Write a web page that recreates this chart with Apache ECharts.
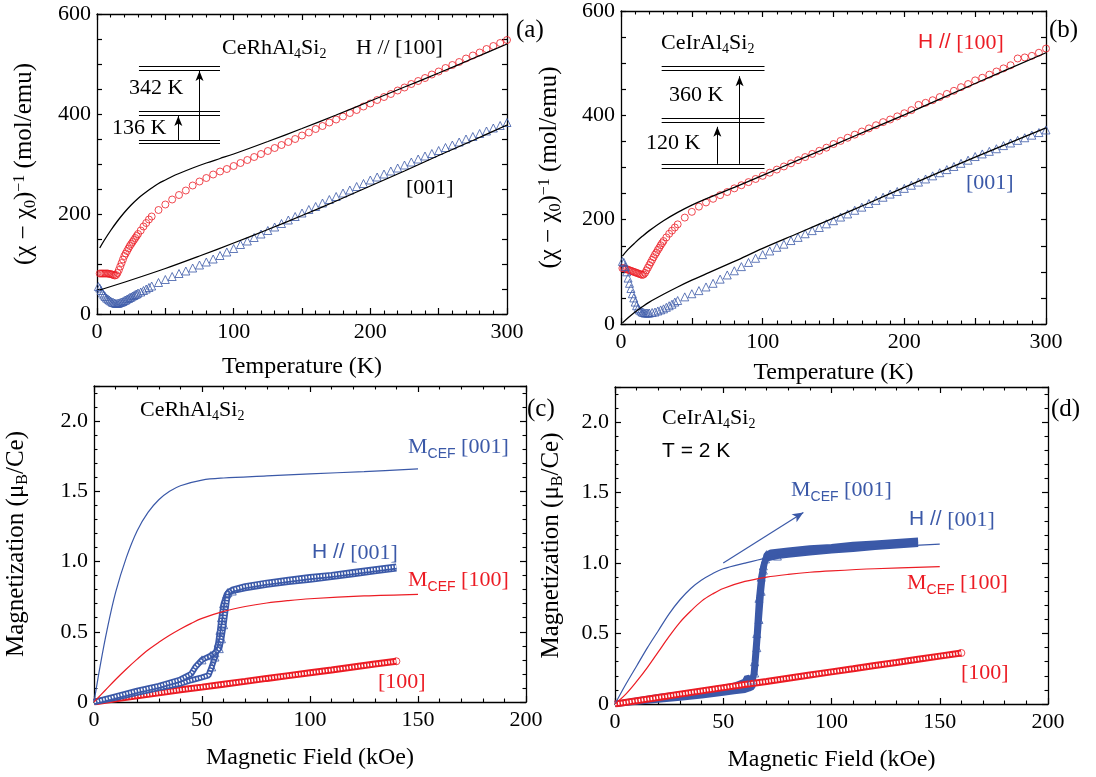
<!DOCTYPE html>
<html>
<head>
<meta charset="utf-8">
<script src="https://cdn.jsdelivr.net/npm/echarts@6/dist/echarts.min.js"></script>
<style>
html,body{margin:0;padding:0;background:#fff}
#chart{width:1096px;height:777px}
</style>
</head>
<body>
<div id="chart"></div>
<script>
// ---- (a) CeRhAl4Si2 inverse susceptibility, [T (K), (chi-chi0)^-1 (mol/emu)]
const aRed100 = [[2,81],[3,81],[4,81],[5,81],[6,81],[7,81],[8,81],[9,80],[10,80],[11,79],[12,78],[13,77],[14,78],[15,82],[16,88],[17,95],[18,102],[19,109],[20,116],[21,121],[22,126],[23,131],[24,136],[25,140],[26,144],[27,148],[28,152],[29,156],[30,160],[32,167],[34,175],[36,182],[38,189],[40,195],[45,208],[50,219],[55,229],[60,238],[65,247],[70,257],[75,265],[80,272],[85,279],[90,285],[95,290],[100,296],[105,302],[110,308],[115,314],[120,320],[125,326],[130,332],[135,338],[140,344],[145,350],[150,357],[155,363],[160,370],[165,376],[170,383],[175,389],[180,395],[185,402],[190,408],[195,415],[200,421],[205,428],[210,434],[215,440],[220,447],[225,453],[230,460],[235,466],[240,472],[245,479],[250,485],[255,492],[260,498],[265,504],[270,511],[275,517],[280,523],[285,530],[290,536],[295,542],[300,548]];
const aBlue001 = [[1,55],[2,52],[3,47],[4,42],[5,38],[6,35],[7,32],[8,30],[9,28],[10,26],[11,24],[12,23],[13,22],[14,21],[15,21],[16,22],[17,23],[18,24],[19,25],[20,27],[21,28],[22,30],[23,31],[24,33],[25,34],[26,36],[27,37],[28,39],[29,40],[30,42],[32,44],[34,47],[36,50],[38,53],[40,56],[45,63],[50,69],[55,75],[60,81],[65,86],[70,92],[75,98],[80,104],[85,110],[90,117],[95,124],[100,131],[105,139],[110,146],[115,153],[120,160],[125,167],[130,174],[135,181],[140,188],[145,195],[150,202],[155,209],[160,215],[165,222],[170,229],[175,235],[180,242],[185,248],[190,255],[195,261],[200,268],[205,274],[210,280],[215,286],[220,292],[225,298],[230,304],[235,310],[240,316],[245,321],[250,327],[255,333],[260,338],[265,344],[270,350],[275,355],[280,361],[285,366],[290,372],[295,377],[300,383]];
const aCef100 = [[2,132],[5,146],[10,167],[15,186],[20,203],[25,218],[30,231],[35,242],[40,252],[45,261],[50,268],[55,275],[60,281],[70,292],[80,302],[90,311],[100,320],[125,345],[150,371],[175,398],[200,426],[225,454],[250,482],[275,511],[300,540]];
const aCef001 = [[2,48],[25,68],[50,91],[75,116],[100,142],[125,169],[150,197],[175,226],[200,256],[225,286],[250,317],[275,347],[300,378]];
// inset level scheme: [T from, T to, level], arrows: [T, from, to]
const aLevels = [[30.7,90,495],[30.7,90,488],[30.7,90,405],[30.7,90,398],[30.7,90,348],[30.7,90,341]];
const aArrows = [[59.5,348,396],[75,348,486]];

// ---- (b) CeIrAl4Si2 inverse susceptibility
const bRed100 = [[1,107],[2,107],[3,106],[4,105],[5,104],[6,103],[7,102],[8,101],[9,100],[10,99],[11,98],[12,97],[13,96],[14,95],[15,94],[16,95],[17,98],[18,103],[19,108],[20,113],[21,118],[22,123],[23,128],[24,133],[25,137],[26,142],[27,146],[28,151],[29,155],[30,159],[32,166],[34,173],[36,179],[38,185],[40,191],[45,204],[50,215],[55,225],[60,233],[65,240],[70,247],[75,253],[80,260],[85,266],[90,272],[95,278],[100,284],[105,290],[110,296],[115,302],[120,308],[125,314],[130,320],[135,326],[140,332],[145,338],[150,345],[155,351],[160,357],[165,363],[170,369],[175,375],[180,381],[185,387],[190,392],[195,398],[200,404],[205,410],[210,420],[215,424],[220,429],[225,435],[230,441],[235,447],[240,454],[245,460],[250,467],[255,472],[260,478],[265,484],[270,490],[275,496],[280,509],[285,511],[290,514],[295,520],[300,528]];
const bBlue001 = [[1,120],[2,118],[3,110],[4,100],[5,88],[6,78],[7,68],[8,58],[9,50],[10,42],[11,35],[12,30],[13,27],[14,25],[15,23],[16,22],[17,21],[18,21],[19,21],[20,21],[22,22],[24,23],[26,25],[28,27],[30,29],[32,32],[34,35],[36,38],[38,42],[40,45],[45,52],[50,58],[55,64],[60,71],[65,78],[70,86],[75,94],[80,102],[85,110],[90,118],[95,126],[100,133],[105,140],[110,147],[115,153],[120,160],[125,166],[130,173],[135,179],[140,185],[145,192],[150,198],[155,205],[160,211],[165,218],[170,224],[175,231],[180,237],[185,243],[190,249],[195,254],[200,260],[205,266],[210,272],[215,278],[220,284],[225,290],[230,296],[235,302],[240,308],[245,314],[250,321],[255,326],[260,331],[265,336],[270,342],[275,347],[280,352],[285,357],[290,362],[295,367],[300,372]];
const bCef100 = [[1,130],[5,143],[10,156],[15,168],[20,179],[30,198],[40,214],[50,228],[60,240],[80,262],[100,285],[125,314],[150,343],[175,372],[200,401],[250,461],[300,520]];
const bCef001 = [[1,2],[5,12],[10,23],[15,33],[20,42],[30,57],[40,71],[50,84],[60,96],[80,120],[100,145],[125,174],[150,203],[175,232],[200,262],[250,320],[300,376]];
const bLevels = [[28.7,101.3,494],[28.7,101.3,487],[28.7,101.3,394],[28.7,101.3,387],[28.7,101.3,307],[28.7,101.3,299]];
const bArrows = [[68,307,378],[83.7,307,475]];

// ---- (c) CeRhAl4Si2 magnetization, [H (kOe), M (muB/Ce)]
const cCef001 = [[0,0],[3,0.27],[6,0.51],[10,0.78],[15,1.03],[20,1.22],[25,1.35],[30,1.44],[35,1.5],[40,1.54],[50,1.58],[60,1.595],[80,1.61],[100,1.625],[125,1.64],[150,1.66]];
const cCef100 = [[0,0],[5,0.08],[10,0.16],[15,0.235],[20,0.305],[25,0.37],[30,0.425],[35,0.475],[40,0.52],[45,0.56],[50,0.595],[60,0.645],[70,0.68],[80,0.705],[90,0.722],[100,0.735],[125,0.755],[150,0.767]];
const cUp001 = [[0,0],[10,0.03],[20,0.065],[30,0.1],[40,0.13],[45,0.155],[50,0.175],[53,0.19],[54.5,0.25],[56,0.32],[57.5,0.42],[58.3,0.51],[59,0.6],[60,0.7],[61.5,0.77],[64,0.79],[70,0.81],[80,0.835],[90,0.855],[100,0.87],[110,0.89],[120,0.91],[130,0.93],[140,0.95]];
const cDown001 = [[140,0.965],[130,0.945],[120,0.925],[110,0.905],[100,0.89],[90,0.87],[80,0.85],[70,0.825],[64,0.8],[62,0.78],[60,0.55],[59,0.45],[58,0.38],[56,0.35],[54,0.33],[50,0.3],[47,0.25],[45,0.2],[40,0.16],[30,0.115],[20,0.08],[10,0.04],[0,0]];
const cRed100 = [[0,0],[10,0.022],[20,0.044],[30,0.065],[40,0.087],[50,0.106],[60,0.127],[70,0.147],[80,0.168],[90,0.188],[100,0.208],[110,0.228],[120,0.249],[130,0.27],[140,0.29]];

// ---- (d) CeIrAl4Si2 magnetization, T = 2 K
const dCef001 = [[0,0],[5,0.14],[10,0.27],[15,0.4],[20,0.52],[25,0.64],[30,0.74],[35,0.82],[40,0.88],[45,0.925],[50,0.96],[60,1.0],[70,1.035],[80,1.06],[100,1.09],[120,1.11],[150,1.135]];
const dCef100 = [[0,0],[5,0.07],[10,0.16],[15,0.26],[20,0.37],[25,0.48],[30,0.58],[35,0.66],[40,0.73],[45,0.78],[50,0.82],[60,0.87],[70,0.9],[80,0.92],[90,0.935],[100,0.945],[120,0.96],[150,0.975]];
const dUp001 = [[0,0],[10,0.015],[20,0.03],[30,0.045],[40,0.06],[50,0.08],[55,0.09],[60,0.1],[62,0.11],[63.5,0.12],[64.5,0.3],[65.5,0.5],[66.5,0.75],[67.5,0.9],[68.5,0.98],[69.5,1.03],[75,1.05],[80,1.06],[90,1.075],[100,1.09],[110,1.1],[120,1.115],[130,1.125],[140,1.135]];
const dDown001 = [[140,1.16],[130,1.15],[120,1.14],[110,1.13],[100,1.115],[90,1.105],[80,1.09],[72,1.075],[70,1.06],[68.5,0.95],[67.5,0.8],[66.5,0.6],[65.5,0.4],[64.5,0.22],[63,0.17],[61,0.19],[60,0.16],[55,0.13],[50,0.115],[40,0.09],[30,0.07],[20,0.05],[10,0.025],[0,0]];
const dRed100 = [[0,0],[10,0.023],[20,0.046],[30,0.07],[40,0.093],[50,0.116],[60,0.139],[70,0.16],[80,0.183],[90,0.206],[100,0.228],[110,0.25],[120,0.273],[130,0.295],[140,0.318],[150,0.34],[160,0.362]];
const dArrow = [[50,1.0],[87,1.36]];

const RED = '#ec1c24', BLUE = '#3b59a8';
const SERIF = 'Liberation Serif', SANS = 'Liberation Sans';

function richSet(color, size) {
  const sub = Math.round(size * 0.65);
  return {
    n: {fontFamily: SERIF, fontSize: size, color, fill: color, lineHeight: size, verticalAlign: 'top'},
    s: {fontFamily: SERIF, fontSize: sub, color, fill: color, lineHeight: sub, padding: [Math.round(size * 0.45), 0, 0, 0], verticalAlign: 'top'},
    p: {fontFamily: SERIF, fontSize: sub, color, fill: color, lineHeight: sub, padding: [0, 0, Math.round(size * 0.45), 0], verticalAlign: 'top'},
    c: {fontFamily: SANS, fontSize: Math.round(size * 0.62), color, fill: color, lineHeight: Math.round(size * 0.62), padding: [Math.round(size * 0.5), 0, 0, 0], verticalAlign: 'top'},
    h: {fontFamily: SANS, fontSize: size - 1, color, fill: color, lineHeight: size, verticalAlign: 'top'}
  };
}

function label(x, y, text, color, size) {
  size = size || 22;
  return {type: 'text', x, y, silent: true, z: 100,
    style: {text, fill: color, font: size + 'px "' + SERIF + '"', verticalAlign: 'middle', rich: richSet(color, size)}};
}

const grids = [
  {left: 97, top: 14, width: 410, height: 300},
  {left: 621, top: 11, width: 425, height: 313},
  {left: 94, top: 386, width: 432, height: 316},
  {left: 615, top: 387, width: 433, height: 317}
];

const line = {lineStyle: {color: '#000', width: 1.3}, onZero: false};
const tick = {inside: true, length: 6, lineStyle: {color: '#000', width: 1.2}};
const lblStyle = {fontFamily: SERIF, fontSize: 22, color: '#000'};

function xPair(g, max, every, name, gap) {
  const base = {gridIndex: g, type: 'value', min: 0, max, interval: 50, axisLine: line, axisTick: tick,
    minorTick: {show: true, splitNumber: 5, length: 3.5, lineStyle: {color: '#000', width: 1.1}},
    splitLine: {show: false}, minorSplitLine: {show: false}};
  return [
    Object.assign({}, base, {position: 'bottom', name, nameLocation: 'middle', nameGap: gap,
      nameTextStyle: {fontFamily: SERIF, fontSize: 24, color: '#000'},
      axisLabel: Object.assign({margin: 7, formatter: v => (v % every === 0 ? String(v) : '')}, lblStyle)}),
    Object.assign({}, base, {position: 'top', axisLabel: {show: false}})
  ];
}

function yChi(g, name, gap) {
  const base = {gridIndex: g, type: 'value', min: 0, max: 600, interval: 50, axisLine: line,
    axisTick: {inside: true, length: 5, lineStyle: {color: '#000', width: 1.2}}, splitLine: {show: false}};
  return [
    Object.assign({}, base, {position: 'left', name, nameLocation: 'middle', nameGap: gap, nameRotate: 90,
      nameTextStyle: {fontFamily: SERIF, fontSize: 25, color: '#000', rich: richSet('#000', 25)},
      axisLabel: Object.assign({margin: 6, formatter: v => (v % 200 === 0 ? String(v) : '')}, lblStyle)}),
    Object.assign({}, base, {position: 'right', axisLabel: {show: false}})
  ];
}

function yMag(g, name, gap) {
  const base = {gridIndex: g, type: 'value', min: 0, max: 2.25, interval: 0.5, axisLine: line, axisTick: tick,
    minorTick: {show: true, splitNumber: 5, length: 3.5, lineStyle: {color: '#000', width: 1.1}}, splitLine: {show: false}};
  return [
    Object.assign({}, base, {position: 'left', name, nameLocation: 'middle', nameGap: gap, nameRotate: 90,
      nameTextStyle: {fontFamily: SERIF, fontSize: 25, color: '#000', rich: richSet('#000', 25)},
      axisLabel: Object.assign({margin: 6, showMaxLabel: false, formatter: v => (v === 0 ? '0' : v.toFixed(1))}, lblStyle)}),
    Object.assign({}, base, {position: 'right', axisLabel: {show: false}})
  ];
}

const chiName = '{n|(χ − χ}{s|0}{n|)}{p|−1}{n| (mol/emu)}';
const magName = '{n|Magnetization (μ}{s|B}{n|/Ce)}';

function hollow(data, symbol, color, size, g) {
  return {type: 'scatter', xAxisIndex: 2 * g, yAxisIndex: 2 * g, data, symbol, symbolSize: size, silent: true, z: 3,
    itemStyle: {color: 'rgba(255,255,255,0)', borderColor: color, borderWidth: 1}};
}
function curve(data, color, width, g, extra) {
  return Object.assign({type: 'line', xAxisIndex: 2 * g, yAxisIndex: 2 * g, data, smooth: 0.35, symbol: 'none',
    silent: true, z: 4, lineStyle: {color, width}}, extra || {});
}
// dense measured points drawn as a band: solid outer stroke, dotted white core
function band(data, color, outer, inner, g) {
  const s = [curve(data, color, outer, g, {smooth: false, z: 2})];
  if (inner) s.push(curve(data, '#fff', inner, g, {smooth: false, z: 2, lineStyle: {color: '#fff', width: inner, type: [1.5, 1.5]}}));
  return s;
}
function insetMarks(levels, arrows) {
  return {silent: true, symbol: ['none', 'none'], label: {show: false}, animation: false,
    lineStyle: {color: '#000', width: 1, type: 'solid'},
    data: levels.map(l => [{coord: [l[0], l[2]]}, {coord: [l[1], l[2]]}])
      .concat(arrows.map(a => [{coord: [a[0], a[1]], symbol: 'none'}, {coord: [a[0], a[2]], symbol: 'arrow', symbolSize: [6, 10]}]))};
}

const series = [
  // (a)
  hollow(aRed100, 'circle', RED, 7, 0),
  hollow(aBlue001, 'triangle', BLUE, 8, 0),
  curve(aCef100, '#000', 1.3, 0, {markLine: insetMarks(aLevels, aArrows)}),
  curve(aCef001, '#000', 1.3, 0),
  // (b)
  hollow(bRed100, 'circle', RED, 7, 1),
  hollow(bBlue001, 'triangle', BLUE, 8, 1),
  curve(bCef100, '#000', 1.3, 1, {markLine: insetMarks(bLevels, bArrows)}),
  curve(bCef001, '#000', 1.3, 1),
  // (c)
  curve(cCef001, BLUE, 1.2, 2),
  curve(cCef100, RED, 1.2, 2),
  ...band(cRed100, RED, 7, 3, 2),
  ...band(cUp001, BLUE, 6, 2.5, 2),
  ...band(cDown001, BLUE, 6, 2.5, 2),
  hollow(cUp001.slice(8, 16), 'triangle', BLUE, 8, 2),
  hollow(cDown001.slice(9, 16), 'triangle', BLUE, 8, 2),
  hollow(cRed100.slice(-1), 'circle', RED, 7, 2),
  // (d)
  curve(dCef001, BLUE, 1.2, 3, {markLine: {silent: true, label: {show: false}, symbol: ['none', 'arrow'], symbolSize: [7, 11],
    lineStyle: {color: BLUE, width: 1.2, type: 'solid'}, data: [[{coord: dArrow[0]}, {coord: dArrow[1]}]]}}),
  curve(dCef100, RED, 1.2, 3),
  ...band(dUp001, BLUE, 6, 0, 3),
  ...band(dDown001, BLUE, 6, 0, 3),
  hollow(dUp001.slice(10, 17), 'triangle', BLUE, 8, 3),
  hollow(dDown001.slice(8, 15), 'triangle', BLUE, 8, 3),
  ...band(dRed100, RED, 7, 3, 3),
  hollow(dRed100.slice(-1), 'circle', RED, 7, 3)
];

const texts = [
  label(222, 48, '{n|CeRhAl}{s|4}{n|Si}{s|2}', '#000'),
  label(356, 48, '{n|H // [100]}', '#000'),
  label(406, 188, '{n|[001]}', '#000'),
  label(129, 88, '{n|342 K}', '#000'),
  label(112, 128, '{n|136 K}', '#000'),
  label(516, 30, '{n|(a)}', '#000', 25),

  label(661, 43, '{n|CeIrAl}{s|4}{n|Si}{s|2}', '#000'),
  label(918, 43, '{h|H //}{n| [100]}', RED),
  label(966, 183, '{n|[001]}', BLUE),
  label(669, 95, '{n|360 K}', '#000'),
  label(646, 143, '{n|120 K}', '#000'),
  label(1049, 30, '{n|(b)}', '#000', 25),

  label(140, 410, '{n|CeRhAl}{s|4}{n|Si}{s|2}', '#000'),
  label(408, 447, '{n|M}{c|CEF}{n| [001]}', BLUE),
  label(312, 553, '{h|H //}{n| [001]}', BLUE),
  label(408, 580, '{n|M}{c|CEF}{n| [100]}', RED),
  label(378, 682, '{n|[100]}', RED),
  label(527, 409, '{n|(c)}', '#000', 25),

  label(662, 418, '{n|CeIrAl}{s|4}{n|Si}{s|2}', '#000'),
  label(662, 452, '{h|T = 2 K}', '#000'),
  label(791, 490, '{n|M}{c|CEF}{n| [001]}', BLUE),
  label(909, 520, '{h|H //}{n| [001]}', BLUE),
  label(907, 583, '{n|M}{c|CEF}{n| [100]}', RED),
  label(961, 673, '{n|[100]}', RED),
  label(1051, 409, '{n|(d)}', '#000', 25)
];

const chart = echarts.init(document.getElementById('chart'), null, {renderer: 'canvas'});
chart.setOption({
  animation: false,
  backgroundColor: '#fff',
  grid: grids,
  xAxis: [
    ...xPair(0, 300, 100, 'Temperature (K)', 41),
    ...xPair(1, 300, 100, 'Temperature (K)', 37),
    ...xPair(2, 200, 50, 'Magnetic Field (kOe)', 44),
    ...xPair(3, 200, 50, 'Magnetic Field (kOe)', 44)
  ],
  yAxis: [
    ...yChi(0, chiName, 60),
    ...yChi(1, chiName, 59),
    ...yMag(2, magName, 65),
    ...yMag(3, magName, 51)
  ],
  series,
  graphic: {elements: texts}
});
</script>
</body>
</html>
